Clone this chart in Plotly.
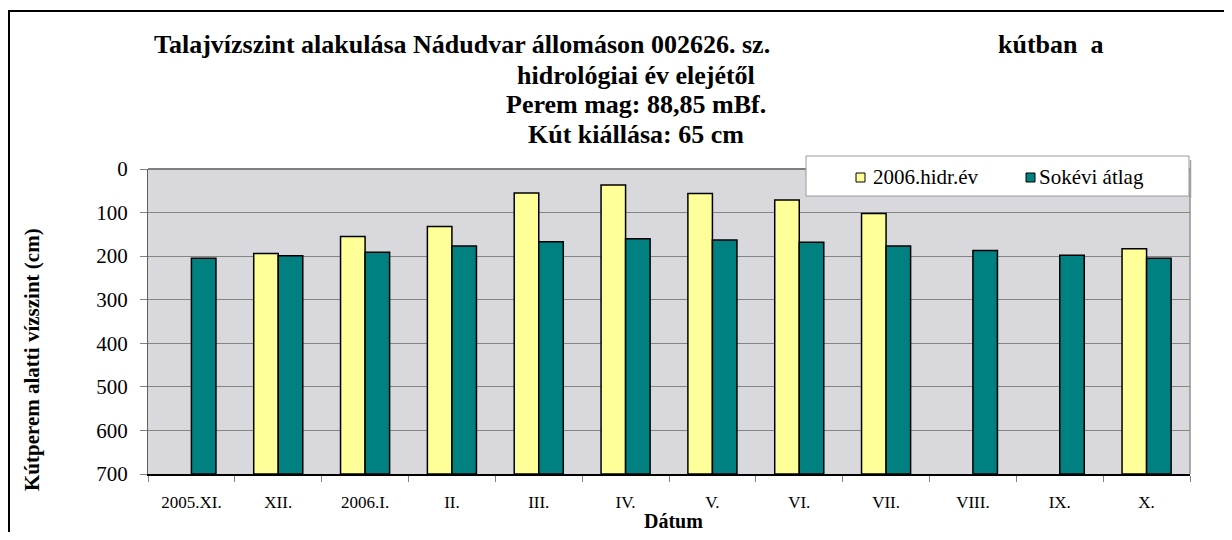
import plotly.graph_objects as go

categories = ["2005.XI.", "XII.", "2006.I.", "II.", "III.", "IV.", "V.", "VI.", "VII.", "VIII.", "IX.", "X."]
hidr_2006 = [None, 194, 155, 132, 55, 37, 56, 71, 102, None, None, 183]
sokevi_atlag = [205, 199, 191, 177, 167, 160, 163, 168, 177, 187, 198, 205]
series_names = ["2006.hidr.év", "Sokévi átlag"]
y_bottom = 700
y_ticks = [0, 100, 200, 300, 400, 500, 600, 700]

SERIF = "Liberation Serif"
YELLOW = "#FFFF99"
TEAL = "#008080"

# page offset (body margin) and figure size
OFF = 8
W, H = 1224, 524
# plot area in page pixels
L, R, T, B = 148, 1190, 169, 474


def px_x(p):
    return (p - L) / (R - L)


def px_y(p):
    return (B - p) / (B - T)


def rel(vals):
    return [None if v is None else v - y_bottom for v in vals]


fig = go.Figure()
fig.add_trace(go.Bar(
    name=series_names[0], x=categories, y=rel(hidr_2006), base=y_bottom,
    marker=dict(color=YELLOW, line=dict(color="black", width=1.5)),
))
fig.add_trace(go.Bar(
    name=series_names[1], x=categories, y=rel(sokevi_atlag), base=y_bottom,
    marker=dict(color=TEAL, line=dict(color="black", width=1.5)),
))

fig.update_layout(
    width=W, height=H,
    margin=dict(l=L - OFF, r=W - (R - OFF), t=T - OFF, b=H - (B - OFF), pad=0),
    paper_bgcolor="white",
    plot_bgcolor="#d9d9dd",
    barmode="group", bargap=0.435, bargroupgap=0,
    font=dict(family=SERIF, color="black"),
    showlegend=False,
    xaxis=dict(
        type="category", tickson="boundaries", ticks="outside", ticklen=6,
        tickcolor="#808080", showline=True, linecolor="black", linewidth=1.5,
        tickfont=dict(family=SERIF, size=17), ticklabelstandoff=12,
        showgrid=False,
    ),
    yaxis=dict(
        range=[700, 0], tickvals=y_ticks, ticks="outside", ticklen=7,
        tickcolor="#808080", showline=True, linecolor="#606060", linewidth=1,
        tickfont=dict(family=SERIF, size=21), ticklabelstandoff=8,
        showgrid=True, gridcolor="#858585", gridwidth=1, zeroline=False,
    ),
)

# right and top border of plot area
fig.add_shape(type="line", xref="paper", yref="paper", x0=1, x1=1, y0=0, y1=1,
              line=dict(color="#909090", width=1.5))
fig.add_shape(type="line", xref="paper", yref="paper", x0=0, x1=1, y0=1, y1=1,
              line=dict(color="#808080", width=2))

# outer chart frame
fig.add_shape(type="rect", xref="paper", yref="paper",
              x0=px_x(9), x1=px_x(1228), y0=px_y(600), y1=px_y(11),
              line=dict(color="black", width=2), fillcolor="rgba(0,0,0,0)", layer="below")

# legend box (drawn by hand to match the original layout)
fig.add_shape(type="rect", xref="paper", yref="paper",
              x0=px_x(806), x1=px_x(1189), y0=px_y(196), y1=px_y(156),
              line=dict(color="#9a9a9a", width=1), fillcolor="white", layer="above")
fig.add_shape(type="line", xref="paper", yref="paper",
              x0=px_x(1190.5), x1=px_x(1190.5), y0=px_y(198), y1=px_y(160),
              line=dict(color="#a0a0a0", width=1.5), layer="above")
legend_items = [(series_names[0], YELLOW, 856, 871), (series_names[1], TEAL, 1026, 1037)]
for name, col, sx, tx in legend_items:
    fig.add_shape(type="rect", xref="paper", yref="paper",
                  x0=px_x(sx), x1=px_x(sx + 9), y0=px_y(182), y1=px_y(173),
                  line=dict(color="black", width=1), fillcolor=col, layer="above")
    fig.add_annotation(text=name, xref="paper", yref="paper", x=px_x(tx), y=px_y(177),
                       xanchor="left", yanchor="middle", showarrow=False,
                       font=dict(family=SERIF, size=21, color="black"))

title_font = dict(family=SERIF, size=26, color="black")
fig.add_annotation(text="<b>Talajvízszint alakulása Nádudvar állomáson 002626. sz.</b>",
                   xref="paper", yref="paper", x=px_x(152), y=px_y(45),
                   xanchor="left", yanchor="middle", showarrow=False, font=title_font)
fig.add_annotation(text="<b>kútban  a</b>",
                   xref="paper", yref="paper", x=px_x(996), y=px_y(45),
                   xanchor="left", yanchor="middle", showarrow=False, font=title_font)
for txt, yc in [("hidrológiai év elejétől", 75), ("Perem mag: 88,85 mBf.", 104),
                ("Kút kiállása: 65 cm", 134)]:
    fig.add_annotation(text="<b>" + txt + "</b>", xref="paper", yref="paper",
                       x=px_x(636), y=px_y(yc), xanchor="center", yanchor="middle",
                       showarrow=False, font=title_font)

fig.add_annotation(text="<b>Kútperem alatti vízszint (cm)</b>", xref="paper", yref="paper",
                   x=px_x(32), y=px_y(360), xanchor="center", yanchor="middle",
                   textangle=-90, showarrow=False,
                   font=dict(family=SERIF, size=21, color="black"))
fig.add_annotation(text="<b>Dátum</b>", xref="paper", yref="paper",
                   x=px_x(673), y=px_y(521), xanchor="center", yanchor="middle",
                   showarrow=False, font=dict(family=SERIF, size=20, color="black"))

fig.write_html("out.html")
